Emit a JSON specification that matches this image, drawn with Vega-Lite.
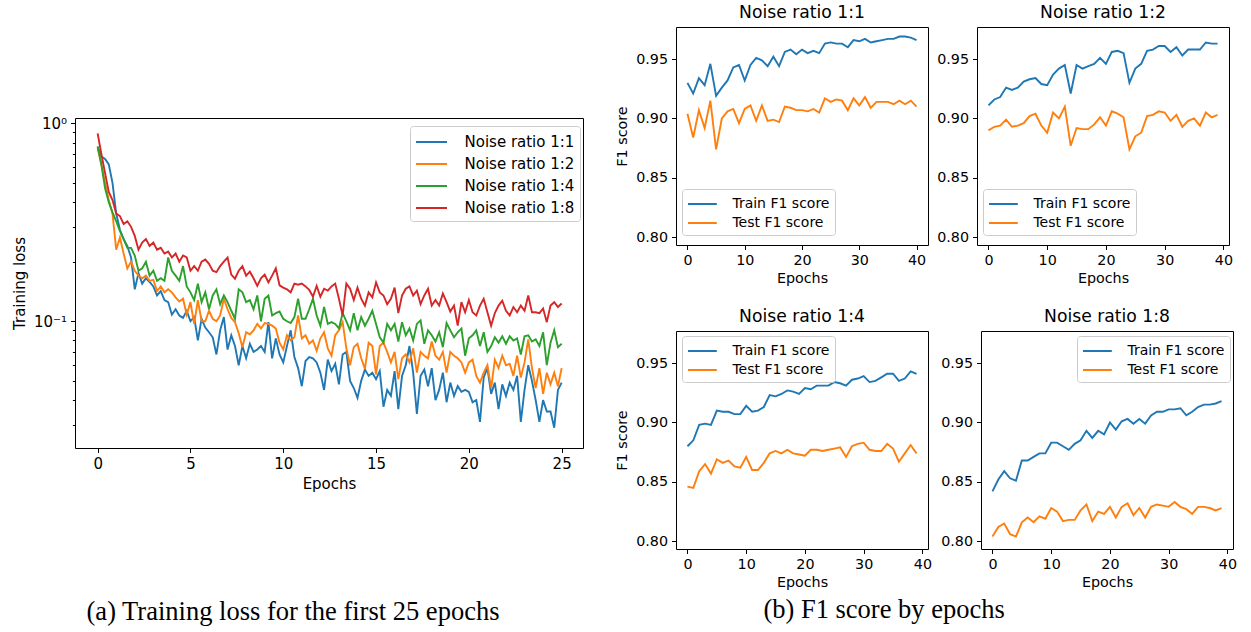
{
"$schema": "https://vega.github.io/schema/vega-lite/v6.json",
"background": "white",
"padding": {"left": 11, "top": 3, "right": 5, "bottom": 5},
"config": {
 "font": "DejaVu Sans",
 "view": {"stroke": "black", "strokeWidth": 1},
 "axis": {"grid": false, "domain": false, "tickColor": "black", "labelColor": "black", "titleColor": "black", "titleFontWeight": "normal", "labelFont": "DejaVu Sans", "titleFont": "DejaVu Sans", "tickSize": 4.5, "labelPadding": 4, "titlePadding": 4, "tickWidth": 1, "labelFontSize": 14.3, "titleFontSize": 14.3},
 "legend": {"orient": "none", "title": null, "labelColor": "black", "labelFont": "DejaVu Sans", "strokeColor": "#cccccc", "fillColor": "rgba(255,255,255,0.8)", "cornerRadius": 3, "padding": 5, "rowPadding": 2, "symbolStrokeWidth": 2},
 "title": {"font": "DejaVu Sans", "fontWeight": "normal", "color": "black", "anchor": "middle"}
},
"datasets": {
 "loss": [
{"x":0,"1:1":0.76,"1:2":0.75,"1:4":0.765,"1:8":0.89},
{"x":0.2,"1:1":0.68,"1:2":0.62,"1:4":0.62,"1:8":0.70},
{"x":0.4,"1:1":0.66,"1:2":0.50,"1:4":0.47,"1:8":0.56},
{"x":0.6,"1:1":0.62,"1:2":0.41,"1:4":0.40,"1:8":0.45},
{"x":0.8,"1:1":0.50,"1:2":0.35,"1:4":0.355,"1:8":0.41},
{"x":1.0,"1:1":0.35,"1:2":0.23,"1:4":0.32,"1:8":0.35},
{"x":1.2,"1:1":0.29,"1:2":0.265,"1:4":0.285,"1:8":0.34},
{"x":1.4,"1:1":0.26,"1:2":0.22,"1:4":0.26,"1:8":0.31},
{"x":1.6,"1:1":0.24,"1:2":0.185,"1:4":0.235,"1:8":0.32},
{"x":1.8,"1:1":0.21,"1:2":0.20,"1:4":0.235,"1:8":0.30},
{"x":2.0,"1:1":0.145,"1:2":0.18,"1:4":0.215,"1:8":0.27},
{"x":2.2,"1:1":0.175,"1:2":0.17,"1:4":0.18,"1:8":0.23},
{"x":2.4,"1:1":0.155,"1:2":0.165,"1:4":0.185,"1:8":0.25},
{"x":2.6,"1:1":0.165,"1:2":0.17,"1:4":0.2,"1:8":0.26},
{"x":2.8,"1:1":0.158,"1:2":0.16,"1:4":0.17,"1:8":0.24},
{"x":3.0,"1:1":0.15,"1:2":0.162,"1:4":0.18,"1:8":0.25},
{"x":3.2,"1:1":0.135,"1:2":0.142,"1:4":0.16,"1:8":0.23},
{"x":3.4,"1:1":0.142,"1:2":0.15,"1:4":0.165,"1:8":0.235},
{"x":3.6,"1:1":0.128,"1:2":0.14,"1:4":0.16,"1:8":0.22},
{"x":3.8,"1:1":0.125,"1:2":0.145,"1:4":0.21,"1:8":0.225},
{"x":4.0,"1:1":0.108,"1:2":0.14,"1:4":0.18,"1:8":0.21},
{"x":4.2,"1:1":0.115,"1:2":0.132,"1:4":0.17,"1:8":0.22},
{"x":4.4,"1:1":0.107,"1:2":0.126,"1:4":0.16,"1:8":0.20},
{"x":4.6,"1:1":0.104,"1:2":0.13,"1:4":0.19,"1:8":0.215},
{"x":4.8,"1:1":0.113,"1:2":0.108,"1:4":0.15,"1:8":0.21},
{"x":5.0,"1:1":0.1,"1:2":0.125,"1:4":0.14,"1:8":0.18},
{"x":5.2,"1:1":0.105,"1:2":0.097,"1:4":0.128,"1:8":0.19},
{"x":5.4,"1:1":0.08,"1:2":0.128,"1:4":0.155,"1:8":0.18},
{"x":5.6,"1:1":0.103,"1:2":0.1,"1:4":0.125,"1:8":0.20},
{"x":5.8,"1:1":0.093,"1:2":0.1,"1:4":0.14,"1:8":0.205},
{"x":6.0,"1:1":0.088,"1:2":0.113,"1:4":0.115,"1:8":0.195},
{"x":6.2,"1:1":0.083,"1:2":0.103,"1:4":0.135,"1:8":0.18},
{"x":6.4,"1:1":0.068,"1:2":0.1,"1:4":0.145,"1:8":0.177},
{"x":6.6,"1:1":0.09,"1:2":0.107,"1:4":0.122,"1:8":0.19},
{"x":6.8,"1:1":0.105,"1:2":0.13,"1:4":0.135,"1:8":0.20},
{"x":7.0,"1:1":0.072,"1:2":0.115,"1:4":0.125,"1:8":0.21},
{"x":7.2,"1:1":0.085,"1:2":0.104,"1:4":0.113,"1:8":0.172},
{"x":7.4,"1:1":0.075,"1:2":0.099,"1:4":0.103,"1:8":0.164},
{"x":7.6,"1:1":0.06,"1:2":0.087,"1:4":0.145,"1:8":0.18},
{"x":7.8,"1:1":0.075,"1:2":0.074,"1:4":0.14,"1:8":0.19},
{"x":8.0,"1:1":0.065,"1:2":0.088,"1:4":0.125,"1:8":0.17},
{"x":8.2,"1:1":0.077,"1:2":0.086,"1:4":0.128,"1:8":0.178},
{"x":8.4,"1:1":0.07,"1:2":0.09,"1:4":0.115,"1:8":0.165},
{"x":8.6,"1:1":0.072,"1:2":0.097,"1:4":0.135,"1:8":0.151},
{"x":8.8,"1:1":0.075,"1:2":0.092,"1:4":0.10,"1:8":0.165},
{"x":9.0,"1:1":0.07,"1:2":0.098,"1:4":0.13,"1:8":0.172},
{"x":9.2,"1:1":0.099,"1:2":0.097,"1:4":0.135,"1:8":0.157},
{"x":9.4,"1:1":0.065,"1:2":0.095,"1:4":0.107,"1:8":0.17},
{"x":9.6,"1:1":0.082,"1:2":0.092,"1:4":0.11,"1:8":0.185},
{"x":9.8,"1:1":0.068,"1:2":0.078,"1:4":0.112,"1:8":0.152},
{"x":10.0,"1:1":0.062,"1:2":0.072,"1:4":0.103,"1:8":0.148},
{"x":10.2,"1:1":0.075,"1:2":0.085,"1:4":0.10,"1:8":0.145},
{"x":10.4,"1:1":0.09,"1:2":0.08,"1:4":0.098,"1:8":0.14},
{"x":10.6,"1:1":0.066,"1:2":0.083,"1:4":0.105,"1:8":0.155},
{"x":10.8,"1:1":0.058,"1:2":0.107,"1:4":0.13,"1:8":0.153},
{"x":11.0,"1:1":0.047,"1:2":0.082,"1:4":0.103,"1:8":0.155},
{"x":11.2,"1:1":0.063,"1:2":0.085,"1:4":0.103,"1:8":0.15},
{"x":11.4,"1:1":0.066,"1:2":0.077,"1:4":0.115,"1:8":0.144},
{"x":11.6,"1:1":0.065,"1:2":0.08,"1:4":0.13,"1:8":0.133},
{"x":11.8,"1:1":0.062,"1:2":0.071,"1:4":0.107,"1:8":0.151},
{"x":12.0,"1:1":0.055,"1:2":0.082,"1:4":0.095,"1:8":0.133},
{"x":12.2,"1:1":0.045,"1:2":0.088,"1:4":0.118,"1:8":0.146},
{"x":12.4,"1:1":0.064,"1:2":0.073,"1:4":0.097,"1:8":0.143},
{"x":12.6,"1:1":0.056,"1:2":0.067,"1:4":0.099,"1:8":0.15},
{"x":12.8,"1:1":0.061,"1:2":0.085,"1:4":0.097,"1:8":0.155},
{"x":13.0,"1:1":0.048,"1:2":0.09,"1:4":0.092,"1:8":0.13},
{"x":13.2,"1:1":0.068,"1:2":0.099,"1:4":0.11,"1:8":0.107},
{"x":13.4,"1:1":0.07,"1:2":0.073,"1:4":0.1,"1:8":0.155},
{"x":13.6,"1:1":0.05,"1:2":0.06,"1:4":0.09,"1:8":0.146},
{"x":13.8,"1:1":0.046,"1:2":0.074,"1:4":0.11,"1:8":0.128},
{"x":14.0,"1:1":0.041,"1:2":0.077,"1:4":0.09,"1:8":0.148},
{"x":14.2,"1:1":0.05,"1:2":0.065,"1:4":0.105,"1:8":0.13},
{"x":14.4,"1:1":0.057,"1:2":0.0575,"1:4":0.095,"1:8":0.12},
{"x":14.6,"1:1":0.053,"1:2":0.078,"1:4":0.103,"1:8":0.14},
{"x":14.8,"1:1":0.055,"1:2":0.075,"1:4":0.113,"1:8":0.132},
{"x":15.0,"1:1":0.051,"1:2":0.054,"1:4":0.097,"1:8":0.157},
{"x":15.2,"1:1":0.056,"1:2":0.075,"1:4":0.083,"1:8":0.14},
{"x":15.4,"1:1":0.037,"1:2":0.078,"1:4":0.078,"1:8":0.135},
{"x":15.6,"1:1":0.045,"1:2":0.07,"1:4":0.097,"1:8":0.122},
{"x":15.8,"1:1":0.042,"1:2":0.062,"1:4":0.09,"1:8":0.13},
{"x":16.0,"1:1":0.056,"1:2":0.07,"1:4":0.097,"1:8":0.148},
{"x":16.2,"1:1":0.036,"1:2":0.051,"1:4":0.079,"1:8":0.11},
{"x":16.4,"1:1":0.053,"1:2":0.065,"1:4":0.099,"1:8":0.135},
{"x":16.6,"1:1":0.06,"1:2":0.068,"1:4":0.085,"1:8":0.146},
{"x":16.8,"1:1":0.075,"1:2":0.062,"1:4":0.092,"1:8":0.15},
{"x":17.0,"1:1":0.055,"1:2":0.073,"1:4":0.08,"1:8":0.135},
{"x":17.2,"1:1":0.034,"1:2":0.055,"1:4":0.097,"1:8":0.143},
{"x":17.4,"1:1":0.053,"1:2":0.07,"1:4":0.101,"1:8":0.122},
{"x":17.6,"1:1":0.057,"1:2":0.067,"1:4":0.077,"1:8":0.135},
{"x":17.8,"1:1":0.047,"1:2":0.065,"1:4":0.09,"1:8":0.146},
{"x":18.0,"1:1":0.058,"1:2":0.079,"1:4":0.085,"1:8":0.12},
{"x":18.2,"1:1":0.04,"1:2":0.067,"1:4":0.079,"1:8":0.128},
{"x":18.4,"1:1":0.045,"1:2":0.064,"1:4":0.088,"1:8":0.12},
{"x":18.6,"1:1":0.055,"1:2":0.07,"1:4":0.074,"1:8":0.138},
{"x":18.8,"1:1":0.039,"1:2":0.055,"1:4":0.098,"1:8":0.125},
{"x":19.0,"1:1":0.049,"1:2":0.07,"1:4":0.09,"1:8":0.112},
{"x":19.2,"1:1":0.042,"1:2":0.067,"1:4":0.083,"1:8":0.12},
{"x":19.4,"1:1":0.047,"1:2":0.065,"1:4":0.088,"1:8":0.095},
{"x":19.6,"1:1":0.044,"1:2":0.062,"1:4":0.092,"1:8":0.125},
{"x":19.8,"1:1":0.045,"1:2":0.055,"1:4":0.067,"1:8":0.111},
{"x":20.0,"1:1":0.044,"1:2":0.062,"1:4":0.082,"1:8":0.128},
{"x":20.2,"1:1":0.039,"1:2":0.064,"1:4":0.085,"1:8":0.111},
{"x":20.4,"1:1":0.04,"1:2":0.053,"1:4":0.09,"1:8":0.107},
{"x":20.6,"1:1":0.031,"1:2":0.049,"1:4":0.075,"1:8":0.12},
{"x":20.8,"1:1":0.052,"1:2":0.055,"1:4":0.088,"1:8":0.13},
{"x":21.0,"1:1":0.058,"1:2":0.06,"1:4":0.07,"1:8":0.111},
{"x":21.2,"1:1":0.043,"1:2":0.046,"1:4":0.075,"1:8":0.095},
{"x":21.4,"1:1":0.049,"1:2":0.064,"1:4":0.083,"1:8":0.11},
{"x":21.6,"1:1":0.036,"1:2":0.058,"1:4":0.078,"1:8":0.12},
{"x":21.8,"1:1":0.048,"1:2":0.067,"1:4":0.084,"1:8":0.127},
{"x":22.0,"1:1":0.042,"1:2":0.06,"1:4":0.077,"1:8":0.113},
{"x":22.2,"1:1":0.049,"1:2":0.061,"1:4":0.084,"1:8":0.107},
{"x":22.4,"1:1":0.045,"1:2":0.053,"1:4":0.08,"1:8":0.118},
{"x":22.6,"1:1":0.053,"1:2":0.067,"1:4":0.082,"1:8":0.111},
{"x":22.8,"1:1":0.031,"1:2":0.052,"1:4":0.068,"1:8":0.12},
{"x":23.0,"1:1":0.045,"1:2":0.062,"1:4":0.084,"1:8":0.113},
{"x":23.2,"1:1":0.06,"1:2":0.081,"1:4":0.085,"1:8":0.135},
{"x":23.4,"1:1":0.05,"1:2":0.058,"1:4":0.079,"1:8":0.111},
{"x":23.6,"1:1":0.04,"1:2":0.046,"1:4":0.081,"1:8":0.111},
{"x":23.8,"1:1":0.031,"1:2":0.058,"1:4":0.075,"1:8":0.11},
{"x":24.0,"1:1":0.04,"1:2":0.043,"1:4":0.088,"1:8":0.116},
{"x":24.2,"1:1":0.035,"1:2":0.055,"1:4":0.06,"1:8":0.099},
{"x":24.4,"1:1":0.035,"1:2":0.048,"1:4":0.078,"1:8":0.12},
{"x":24.6,"1:1":0.029,"1:2":0.055,"1:4":0.09,"1:8":0.125},
{"x":24.8,"1:1":0.045,"1:2":0.047,"1:4":0.074,"1:8":0.118},
{"x":25.0,"1:1":0.049,"1:2":0.058,"1:4":0.077,"1:8":0.123}
 ],
 "p11": [
{"e":0,"Train":0.930,"Test":0.904},{"e":1,"Train":0.921,"Test":0.884},{"e":2,"Train":0.934,"Test":0.907},{"e":3,"Train":0.928,"Test":0.892},{"e":4,"Train":0.946,"Test":0.915},
{"e":5,"Train":0.919,"Test":0.874},{"e":6,"Train":0.926,"Test":0.900},{"e":7,"Train":0.932,"Test":0.906},{"e":8,"Train":0.943,"Test":0.908},{"e":9,"Train":0.945,"Test":0.896},
{"e":10,"Train":0.932,"Test":0.908},{"e":11,"Train":0.945,"Test":0.911},{"e":12,"Train":0.951,"Test":0.898},{"e":13,"Train":0.949,"Test":0.911},{"e":14,"Train":0.944,"Test":0.898},
{"e":15,"Train":0.952,"Test":0.899},{"e":16,"Train":0.944,"Test":0.897},{"e":17,"Train":0.956,"Test":0.910},{"e":18,"Train":0.958,"Test":0.909},{"e":19,"Train":0.954,"Test":0.907},
{"e":20,"Train":0.958,"Test":0.907},{"e":21,"Train":0.955,"Test":0.906},{"e":22,"Train":0.957,"Test":0.908},{"e":23,"Train":0.955,"Test":0.905},{"e":24,"Train":0.963,"Test":0.917},
{"e":25,"Train":0.964,"Test":0.914},{"e":26,"Train":0.963,"Test":0.916},{"e":27,"Train":0.963,"Test":0.915},{"e":28,"Train":0.960,"Test":0.907},{"e":29,"Train":0.966,"Test":0.917},
{"e":30,"Train":0.965,"Test":0.911},{"e":31,"Train":0.967,"Test":0.918},{"e":32,"Train":0.964,"Test":0.909},{"e":33,"Train":0.965,"Test":0.914},{"e":34,"Train":0.966,"Test":0.914},
{"e":35,"Train":0.967,"Test":0.914},{"e":36,"Train":0.967,"Test":0.912},{"e":37,"Train":0.969,"Test":0.915},{"e":38,"Train":0.969,"Test":0.912},{"e":39,"Train":0.968,"Test":0.915},
{"e":40,"Train":0.966,"Test":0.910}
 ],
 "p12": [
{"e":0,"Train":0.911,"Test":0.890},{"e":1,"Train":0.916,"Test":0.893},{"e":2,"Train":0.918,"Test":0.894},{"e":3,"Train":0.926,"Test":0.899},{"e":4,"Train":0.924,"Test":0.893},
{"e":5,"Train":0.926,"Test":0.894},{"e":6,"Train":0.931,"Test":0.896},{"e":7,"Train":0.933,"Test":0.902},{"e":8,"Train":0.934,"Test":0.904},{"e":9,"Train":0.929,"Test":0.894},
{"e":10,"Train":0.928,"Test":0.888},{"e":11,"Train":0.937,"Test":0.905},{"e":12,"Train":0.942,"Test":0.900},{"e":13,"Train":0.945,"Test":0.910},{"e":14,"Train":0.921,"Test":0.877},
{"e":15,"Train":0.945,"Test":0.892},{"e":16,"Train":0.942,"Test":0.891},{"e":17,"Train":0.944,"Test":0.891},{"e":18,"Train":0.946,"Test":0.895},{"e":19,"Train":0.951,"Test":0.901},
{"e":20,"Train":0.946,"Test":0.894},{"e":21,"Train":0.956,"Test":0.906},{"e":22,"Train":0.957,"Test":0.904},{"e":23,"Train":0.955,"Test":0.901},{"e":24,"Train":0.930,"Test":0.874},
{"e":25,"Train":0.942,"Test":0.885},{"e":26,"Train":0.946,"Test":0.888},{"e":27,"Train":0.957,"Test":0.902},{"e":28,"Train":0.958,"Test":0.903},{"e":29,"Train":0.961,"Test":0.906},
{"e":30,"Train":0.961,"Test":0.905},{"e":31,"Train":0.956,"Test":0.898},{"e":32,"Train":0.960,"Test":0.903},{"e":33,"Train":0.953,"Test":0.893},{"e":34,"Train":0.958,"Test":0.898},
{"e":35,"Train":0.958,"Test":0.900},{"e":36,"Train":0.958,"Test":0.894},{"e":37,"Train":0.964,"Test":0.905},{"e":38,"Train":0.963,"Test":0.901},{"e":39,"Train":0.963,"Test":0.903}
 ],
 "p14": [
{"e":0,"Train":0.880,"Test":0.846},{"e":1,"Train":0.885,"Test":0.845},{"e":2,"Train":0.898,"Test":0.859},{"e":3,"Train":0.899,"Test":0.865},{"e":4,"Train":0.898,"Test":0.857},
{"e":5,"Train":0.910,"Test":0.869},{"e":6,"Train":0.909,"Test":0.866},{"e":7,"Train":0.909,"Test":0.868},{"e":8,"Train":0.907,"Test":0.863},{"e":9,"Train":0.907,"Test":0.862},
{"e":10,"Train":0.914,"Test":0.871},{"e":11,"Train":0.909,"Test":0.860},{"e":12,"Train":0.910,"Test":0.860},{"e":13,"Train":0.913,"Test":0.866},{"e":14,"Train":0.923,"Test":0.874},
{"e":15,"Train":0.922,"Test":0.876},{"e":16,"Train":0.924,"Test":0.874},{"e":17,"Train":0.927,"Test":0.877},{"e":18,"Train":0.926,"Test":0.874},{"e":19,"Train":0.924,"Test":0.873},
{"e":20,"Train":0.929,"Test":0.872},{"e":21,"Train":0.928,"Test":0.877},{"e":22,"Train":0.931,"Test":0.877},{"e":23,"Train":0.931,"Test":0.876},{"e":24,"Train":0.931,"Test":0.877},
{"e":25,"Train":0.934,"Test":0.878},{"e":26,"Train":0.933,"Test":0.879},{"e":27,"Train":0.931,"Test":0.871},{"e":28,"Train":0.936,"Test":0.880},{"e":29,"Train":0.937,"Test":0.882},
{"e":30,"Train":0.939,"Test":0.883},{"e":31,"Train":0.934,"Test":0.877},{"e":32,"Train":0.935,"Test":0.876},{"e":33,"Train":0.938,"Test":0.876},{"e":34,"Train":0.941,"Test":0.882},
{"e":35,"Train":0.941,"Test":0.878},{"e":36,"Train":0.935,"Test":0.867},{"e":37,"Train":0.937,"Test":0.874},{"e":38,"Train":0.943,"Test":0.881},{"e":39,"Train":0.941,"Test":0.874}
 ],
 "p18": [
{"e":0,"Train":0.842,"Test":0.804},{"e":1,"Train":0.852,"Test":0.812},{"e":2,"Train":0.859,"Test":0.815},{"e":3,"Train":0.853,"Test":0.806},{"e":4,"Train":0.851,"Test":0.804},
{"e":5,"Train":0.868,"Test":0.816},{"e":6,"Train":0.868,"Test":0.820},{"e":7,"Train":0.871,"Test":0.816},{"e":8,"Train":0.874,"Test":0.821},{"e":9,"Train":0.874,"Test":0.819},
{"e":10,"Train":0.883,"Test":0.828},{"e":11,"Train":0.883,"Test":0.825},{"e":12,"Train":0.880,"Test":0.817},{"e":13,"Train":0.877,"Test":0.818},{"e":14,"Train":0.882,"Test":0.818},
{"e":15,"Train":0.885,"Test":0.826},{"e":16,"Train":0.893,"Test":0.831},{"e":17,"Train":0.887,"Test":0.817},{"e":18,"Train":0.893,"Test":0.825},{"e":19,"Train":0.890,"Test":0.823},
{"e":20,"Train":0.900,"Test":0.829},{"e":21,"Train":0.894,"Test":0.820},{"e":22,"Train":0.901,"Test":0.829},{"e":23,"Train":0.903,"Test":0.832},{"e":24,"Train":0.899,"Test":0.822},
{"e":25,"Train":0.903,"Test":0.828},{"e":26,"Train":0.899,"Test":0.820},{"e":27,"Train":0.906,"Test":0.829},{"e":28,"Train":0.909,"Test":0.831},{"e":29,"Train":0.909,"Test":0.830},
{"e":30,"Train":0.911,"Test":0.829},{"e":31,"Train":0.911,"Test":0.833},{"e":32,"Train":0.912,"Test":0.829},{"e":33,"Train":0.906,"Test":0.827},{"e":34,"Train":0.909,"Test":0.823},
{"e":35,"Train":0.913,"Test":0.829},{"e":36,"Train":0.915,"Test":0.829},{"e":37,"Train":0.915,"Test":0.828},{"e":38,"Train":0.916,"Test":0.826},{"e":39,"Train":0.918,"Test":0.828}
 ]
},
"spacing": 31,
"resolve": {"scale": {"x": "independent", "y": "independent", "color": "independent"}, "legend": {"color": "independent"}},
"hconcat": [
 {
  "spacing": 14,
  "resolve": {"scale": {"x": "independent", "y": "independent", "color": "independent"}, "legend": {"color": "independent"}},
  "vconcat": [
   {"width": 508, "height": 74, "view": {"stroke": null}, "data": {"values": []}, "mark": "point", "encoding": {}},
   {
    "width": 508, "height": 330,
    "data": {"name": "loss"},
    "title": {"text": "(a) Training loss for the first 25 epochs", "orient": "bottom", "offset": 107, "dx": -36, "font": "Liberation Serif", "fontSize": 26.5, "fontWeight": "normal", "color": "black", "anchor": "middle"},
    "transform": [{"fold": ["1:1", "1:2", "1:4", "1:8"], "as": ["s", "v"]}],
    "mark": {"type": "line", "strokeWidth": 1.9, "clip": true},
    "encoding": {
     "x": {"field": "x", "type": "quantitative", "scale": {"domain": [-1.22, 26.15], "nice": false, "zero": false},
           "axis": {"values": [0, 5, 10, 15, 20, 25], "title": "Epochs", "labelFontSize": 15, "titleFontSize": 15, "titlePadding": 5}},
     "y": {"field": "v", "type": "quantitative", "scale": {"type": "log", "domain": [0.0229, 1.064], "nice": false},
           "axis": {"values": [0.03, 0.04, 0.05, 0.06, 0.07, 0.08, 0.09, 0.1, 0.2, 0.3, 0.4, 0.5, 0.6, 0.7, 0.8, 0.9, 1],
                    "labelExpr": "datum.value == 1 ? '10⁰' : (datum.value == 0.1 ? '10⁻¹' : '')",
                    "tickSize": {"condition": {"test": "datum.value == 1 || datum.value == 0.1", "value": 4.5}, "value": 2.6},
                    "title": "Training loss", "labelFontSize": 15, "titleFontSize": 15, "titlePadding": 6}},
     "color": {"field": "s", "type": "nominal",
               "scale": {"domain": ["1:1", "1:2", "1:4", "1:8"], "range": ["#1f77b4", "#ff7f0e", "#2ca02c", "#d62728"]},
               "legend": {"legendX": 335, "legendY": 8, "labelExpr": "'Noise ratio ' + datum.label", "labelFontSize": 15, "rowPadding": 3,
                          "symbolType": "M-1.55,0H1.55", "symbolSize": 400, "symbolOffset": 5.5, "labelOffset": 22}}
    }
   }
  ]
 },
 {
  "spacing": 20,
  "title": {"text": "(b) F1 score by epochs", "orient": "bottom", "offset": 6, "dx": -42, "font": "Liberation Serif", "fontSize": 26.5, "fontWeight": "normal", "color": "black", "anchor": "middle"},
  "resolve": {"scale": {"x": "independent", "y": "independent", "color": "independent"}, "legend": {"color": "independent"}},
  "vconcat": [
   {
    "spacing": 7,
    "resolve": {"scale": {"x": "independent", "y": "independent", "color": "independent"}, "legend": {"color": "independent"}},
    "hconcat": [
     {
      "width": 252, "height": 218,
      "data": {"name": "p11"},
      "title": {"text": "Noise ratio 1:1", "fontSize": 17.2, "offset": 6},
      "transform": [{"fold": ["Train", "Test"], "as": ["k", "v"]}],
      "mark": {"type": "line", "strokeWidth": 1.9},
      "encoding": {
       "x": {"field": "e", "type": "quantitative", "scale": {"domain": [-2, 42], "nice": false, "zero": false}, "axis": {"values": [0, 10, 20, 30, 40], "title": "Epochs"}},
       "y": {"field": "v", "type": "quantitative", "scale": {"domain": [0.7935, 0.977], "nice": false, "zero": false}, "axis": {"values": [0.8, 0.85, 0.9, 0.95], "format": ".2f", "title": "F1 score", "titlePadding": 6}},
       "color": {"field": "k", "type": "nominal", "scale": {"domain": ["Train", "Test"], "range": ["#1f77b4", "#ff7f0e"]},
                 "legend": {"legendX": 6, "legendY": 162, "labelExpr": "datum.label + ' F1 score'", "labelFontSize": 14, "symbolType": "M-1.6,0H1.6", "symbolSize": 324, "symbolOffset": 5.4, "labelOffset": 20}}
      }
     },
     {
      "width": 252, "height": 218,
      "data": {"name": "p12"},
      "title": {"text": "Noise ratio 1:2", "fontSize": 17.2, "offset": 6},
      "transform": [{"fold": ["Train", "Test"], "as": ["k", "v"]}],
      "mark": {"type": "line", "strokeWidth": 1.9},
      "encoding": {
       "x": {"field": "e", "type": "quantitative", "scale": {"domain": [-1.95, 40.95], "nice": false, "zero": false}, "axis": {"values": [0, 10, 20, 30, 40], "title": "Epochs"}},
       "y": {"field": "v", "type": "quantitative", "scale": {"domain": [0.7935, 0.977], "nice": false, "zero": false}, "axis": {"values": [0.8, 0.85, 0.9, 0.95], "format": ".2f", "title": null}},
       "color": {"field": "k", "type": "nominal", "scale": {"domain": ["Train", "Test"], "range": ["#1f77b4", "#ff7f0e"]},
                 "legend": {"legendX": 6, "legendY": 162, "labelExpr": "datum.label + ' F1 score'", "labelFontSize": 14, "symbolType": "M-1.6,0H1.6", "symbolSize": 324, "symbolOffset": 5.4, "labelOffset": 20}}
      }
     }
    ]
   },
   {
    "spacing": 7,
    "resolve": {"scale": {"x": "independent", "y": "independent", "color": "independent"}, "legend": {"color": "independent"}},
    "hconcat": [
     {
      "width": 252, "height": 218,
      "data": {"name": "p14"},
      "title": {"text": "Noise ratio 1:4", "fontSize": 17.2, "offset": 6},
      "transform": [{"fold": ["Train", "Test"], "as": ["k", "v"]}],
      "mark": {"type": "line", "strokeWidth": 1.9},
      "encoding": {
       "x": {"field": "e", "type": "quantitative", "scale": {"domain": [-1.95, 40.95], "nice": false, "zero": false}, "axis": {"values": [0, 10, 20, 30, 40], "title": "Epochs"}},
       "y": {"field": "v", "type": "quantitative", "scale": {"domain": [0.7935, 0.977], "nice": false, "zero": false}, "axis": {"values": [0.8, 0.85, 0.9, 0.95], "format": ".2f", "title": "F1 score", "titlePadding": 6}},
       "color": {"field": "k", "type": "nominal", "scale": {"domain": ["Train", "Test"], "range": ["#1f77b4", "#ff7f0e"]},
                 "legend": {"legendX": 6, "legendY": 5, "labelExpr": "datum.label + ' F1 score'", "labelFontSize": 14, "symbolType": "M-1.6,0H1.6", "symbolSize": 324, "symbolOffset": 5.4, "labelOffset": 20}}
      }
     },
     {
      "width": 252, "height": 218,
      "data": {"name": "p18"},
      "title": {"text": "Noise ratio 1:8", "fontSize": 17.2, "offset": 6},
      "transform": [{"fold": ["Train", "Test"], "as": ["k", "v"]}],
      "mark": {"type": "line", "strokeWidth": 1.9},
      "encoding": {
       "x": {"field": "e", "type": "quantitative", "scale": {"domain": [-1.95, 40.95], "nice": false, "zero": false}, "axis": {"values": [0, 10, 20, 30, 40], "title": "Epochs"}},
       "y": {"field": "v", "type": "quantitative", "scale": {"domain": [0.7935, 0.977], "nice": false, "zero": false}, "axis": {"values": [0.8, 0.85, 0.9, 0.95], "format": ".2f", "title": null}},
       "color": {"field": "k", "type": "nominal", "scale": {"domain": ["Train", "Test"], "range": ["#1f77b4", "#ff7f0e"]},
                 "legend": {"legendX": 96, "legendY": 5, "labelExpr": "datum.label + ' F1 score'", "labelFontSize": 14, "symbolType": "M-1.6,0H1.6", "symbolSize": 324, "symbolOffset": 5.4, "labelOffset": 20}}
      }
     }
    ]
   }
  ]
 }
]
}
